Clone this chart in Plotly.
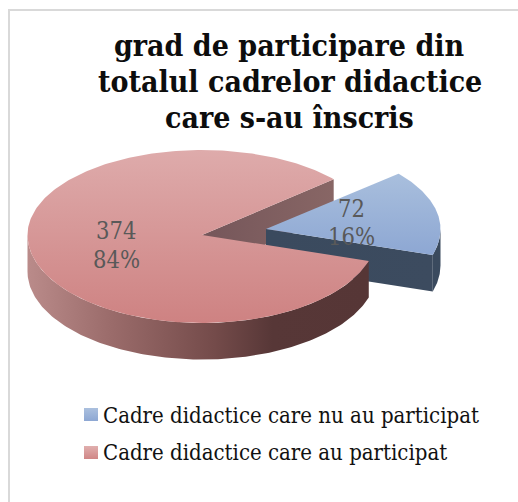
import numpy as np
import plotly.graph_objects as go

title_lines = ["grad de participare din", "totalul cadrelor didactice", "care s-au înscris"]
categories = ["Cadre didactice care nu au participat", "Cadre didactice care au participat"]
values = [72, 374]

W, H = 518, 502
FONT = "DejaVu Serif Condensed, DejaVu Serif, serif"
CX, CY, RX, RY_TOP, RY_BOT, DEPTH = 202.0, 235.0, 174.5, 85.0, 88.0, 36.5
EXPLODE = (64.0, -6.0)
START = 41.0

total = sum(values)
sweep = [360.0 * v / total for v in values]


def rim(a0, a1, dx=0.0, dy=0.0, n=160):
    t = np.radians(np.linspace(a0, a1, n))
    s = np.sin(t)
    ry = np.where(s > 0, RY_TOP, RY_BOT)
    return CX + dx + RX * np.cos(t), CY + dy - ry * s


def poly(x, y, scale, kind, start=None, stop=None):
    return go.Scatter(
        x=list(x), y=list(y), mode="lines", fill="toself",
        line=dict(width=0), hoverinfo="skip", showlegend=False,
        fillgradient=dict(type=kind, colorscale=scale, start=start, stop=stop),
    )


fig = go.Figure()

a_blue_end = START - sweep[0]

# inner wall of the main slice, behind the exploded slice
rx0, ry0 = rim(START, START, n=1)
fig.add_trace(poly([CX, rx0[0], rx0[0], CX], [CY, ry0[0], ry0[0] + DEPTH, CY + DEPTH],
                   [[0, "#75565a"], [1, "#886665"]], "horizontal"))

# exploded slice: outer wall, cut wall, top
ex, ey = EXPLODE
bx, by = rim(START, a_blue_end, ex, ey)
fx, fy = rim(0, a_blue_end, ex, ey, n=40)
fig.add_trace(poly(list(fx) + list(fx[::-1]), list(fy) + list(fy[::-1] + DEPTH),
                   [[0, "#3a4a5e"], [1, "#3a4a5e"]], "horizontal"))
apex_x, apex_y = CX + ex, CY + ey
fig.add_trace(poly([apex_x, fx[-1], fx[-1], apex_x],
                   [apex_y, fy[-1], fy[-1] + DEPTH, apex_y + DEPTH],
                   [[0, "#3a4a5e"], [1, "#3c4b5f"]], "horizontal"))
fig.add_trace(poly([apex_x] + list(bx) + [apex_x], [apex_y] + list(by) + [apex_y],
                   [[0, "#a9bfdd"], [1, "#8da7d3"]], "vertical",
                   start=CY + ey - RY_TOP * 0.66, stop=CY + ey + RY_BOT * 0.3))

# main slice: outer wall, then top
wx, wy = rim(180, 360 + a_blue_end)
fig.add_trace(poly(list(wx) + list(wx[::-1]), list(wy) + list(wy[::-1] + DEPTH),
                   [[0, "#ba8b8a"], [0.25, "#9a6b6a"], [0.55, "#744b4a"], [0.72, "#573737"], [1, "#563636"]],
                   "horizontal", start=CX - RX, stop=CX + RX * 0.95))
mx, my = rim(START, START + sweep[1], n=300)
fig.add_trace(poly([CX] + list(mx) + [CX], [CY] + list(my) + [CY],
                   [[0, "#deabab"], [1, "#ce8282"]], "vertical", start=CY - RY_TOP, stop=CY + RY_BOT))

# legend swatches
swatches = [((84, 98), (408, 421), ["#abc0de", "#8da7d3"]), ((84, 98), (446, 459), ["#e0afae", "#d08686"])]
for (x0, x1), (y0, y1), cols in swatches:
    fig.add_trace(poly([x0, x1, x1, x0, x0], [y0, y0, y1, y1, y0],
                       [[0, cols[0]], [1, cols[1]]], "vertical", start=y0, stop=y1))

ann = []


def text(x, y, s, size, color, bold=False, anchor="center"):
    ann.append(dict(x=x, y=y, xref="x", yref="y", text=f"<b>{s}</b>" if bold else s, showarrow=False,
                    xanchor=anchor, yanchor="middle", font=dict(family=FONT, size=size, color=color)))


for y, line in zip([45, 81, 117], title_lines):
    text(289.5, y, line, 30, "#0d0d0d", bold=True)

grey = "#595959"
text(116, 231, str(values[1]), 23.5, grey)
text(116, 260, f"{round(100 * values[1] / total)}%", 23.5, grey)
text(351, 209, str(values[0]), 23.5, grey)
text(351, 237, f"{round(100 * values[0] / total)}%", 23.5, grey)

text(101, 415, categories[0], 22, "#111111", anchor="left")
text(101, 452, categories[1], 22, "#111111", anchor="left")

fig.update_layout(
    width=W, height=H, margin=dict(l=0, r=0, t=0, b=0),
    paper_bgcolor="white", plot_bgcolor="white", showlegend=False,
    xaxis=dict(range=[0, W], visible=False, fixedrange=True),
    yaxis=dict(range=[H, 0], visible=False, fixedrange=True),
    annotations=ann,
    shapes=[
        dict(type="line", xref="x", yref="y", x0=9, x1=9, y0=9, y1=H, line=dict(color="#d9d9d9", width=2)),
        dict(type="line", xref="x", yref="y", x0=8, x1=W, y0=10, y1=10, line=dict(color="#d9d9d9", width=2)),
    ],
)
fig.write_html("out.html", config=dict(displayModeBar=False),
               post_script="document.body.style.margin='0';document.body.style.overflow='hidden';")
